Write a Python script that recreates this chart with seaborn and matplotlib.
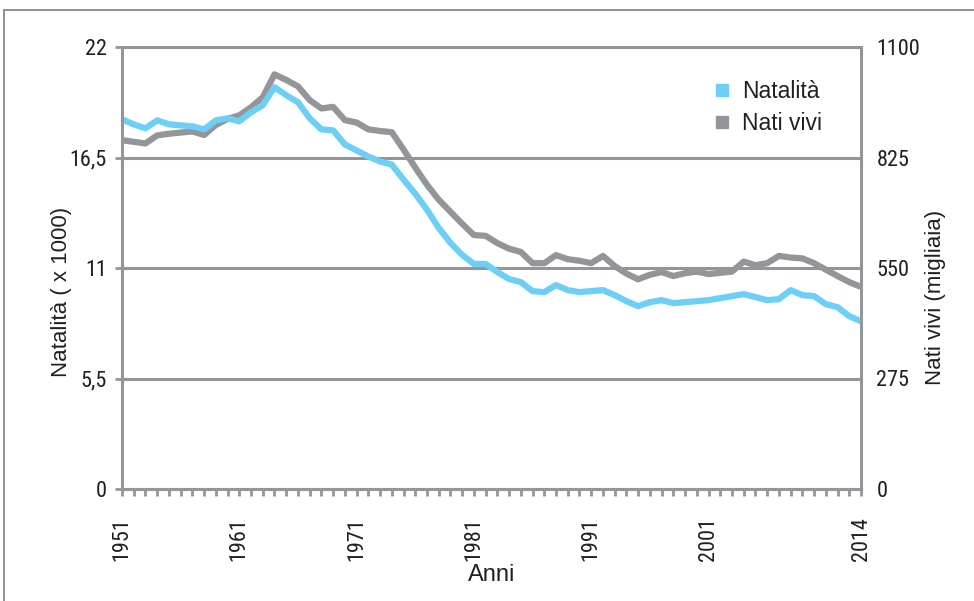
import matplotlib
matplotlib.use("Agg")
import matplotlib.pyplot as plt
from matplotlib import font_manager
from matplotlib.lines import Line2D
from matplotlib.ticker import FixedLocator
import seaborn as sns

# Annual series, Italy 1951-2014
anni = list(range(1951, 2015))

# Birth rate (births per 1000 inhabitants)
natalita = [
    18.4, 18.15, 17.95, 18.35, 18.15, 18.1, 18.05, 17.9, 18.35, 18.45,
    18.3, 18.75, 19.1, 20.0, 19.6, 19.25, 18.45, 17.9, 17.85, 17.15,
    16.85, 16.55, 16.3, 16.15, 15.4, 14.7, 13.9, 13.0, 12.25, 11.65,
    11.2, 11.2, 10.8, 10.45, 10.3, 9.85, 9.8, 10.15, 9.9, 9.8,
    9.85, 9.9, 9.65, 9.35, 9.1, 9.3, 9.4, 9.25, 9.3, 9.35,
    9.4, 9.5, 9.6, 9.7, 9.55, 9.4, 9.45, 9.9, 9.65, 9.6,
    9.2, 9.05, 8.6, 8.35,
]

# Live births (thousands)
nati_vivi = [
    868, 864, 860, 880, 884, 887, 890, 881, 906, 921,
    930, 950, 975, 1032, 1018, 1002, 968, 947, 951, 918,
    912, 895, 891, 888, 845, 800, 757, 720, 690, 660,
    632, 630, 612, 598, 590, 562, 562, 582, 572, 568,
    562, 580, 555, 536, 522, 533, 540, 530, 537, 541,
    535, 538, 541, 566, 557, 562, 580, 576, 574, 562,
    546, 530, 515, 503,
]

# Axis ticks and labels
anni_etichette = [1951, 1961, 1971, 1981, 1991, 2001, 2014]
natalita_ticks = [0, 5.5, 11, 16.5, 22]
natalita_labels = ["0", "5,5", "11", "16,5", "22"]
nati_ticks = [0, 275, 550, 825, 1100]
nati_labels = ["0", "275", "550", "825", "1100"]

BLU = "#6dcff6"
GRIGIO = "#939598"
TESTO = "#231f20"


def primo_font(candidati):
    installati = {f.name for f in font_manager.fontManager.ttflist}
    for nome in candidati:
        if nome in installati:
            return nome
    return "DejaVu Sans"


font_stretto = primo_font(["Liberation Sans Narrow", "Roboto Condensed",
                           "DejaVu Sans Condensed", "Liberation Sans"])
font_testo = primo_font(["Liberation Sans", "Roboto", "DejaVu Sans"])

sns.set_theme(style="white")
plt.rcParams["font.family"] = [font_testo, "DejaVu Sans"]

fig = plt.figure(figsize=(9.74, 6.01), dpi=100)
fig.patch.set_facecolor("white")

ax = fig.add_axes([122 / 974, 1 - 489 / 601, 739 / 974, 442 / 601])
ax2 = ax.twinx()

# right-hand axis sits underneath, carrying the gridlines and the grey series
ax2.set_zorder(1)
ax.set_zorder(2)
ax.patch.set_visible(False)
ax2.patch.set_facecolor("white")

sns.lineplot(x=anni, y=nati_vivi, ax=ax2, color=GRIGIO, linewidth=4.5,
             solid_joinstyle="round", solid_capstyle="butt")
sns.lineplot(x=anni, y=natalita, ax=ax, color=BLU, linewidth=4.5,
             solid_joinstyle="round", solid_capstyle="butt")

ax.set_xlim(1951, 2014)
ax.set_ylim(0, 22)
ax2.set_ylim(0, 1100)

# gridlines
ax2.set_yticks(nati_ticks)
ax2.set_yticklabels(nati_labels)
ax2.yaxis.grid(True, color=GRIGIO, linewidth=2.2)
ax2.xaxis.grid(False)
ax.grid(False)
for s in ax2.spines.values():
    s.set_visible(False)

for s in ax.spines.values():
    s.set_visible(True)
    s.set_color(GRIGIO)
    s.set_linewidth(2.2)

ax.set_yticks(natalita_ticks)
ax.set_yticklabels(natalita_labels)
ax.tick_params(axis="y", which="major", direction="out", length=5, width=2,
               color=GRIGIO, pad=6, labelsize=16, labelcolor=TESTO, left=True)
ax2.tick_params(axis="y", which="major", length=0, pad=11, labelsize=16,
                labelcolor=TESTO, right=True)

ax.xaxis.set_major_locator(FixedLocator(anni_etichette))
ax.set_xticklabels([str(a) for a in anni_etichette])
ax.xaxis.set_minor_locator(FixedLocator([a for a in anni if a not in anni_etichette]))
ax.tick_params(axis="x", which="both", direction="out", length=5, width=2,
               color=GRIGIO, bottom=True)
ax.tick_params(axis="x", which="major", pad=15, labelsize=16,
               labelcolor=TESTO, labelrotation=90)

for lab in ax.get_xticklabels() + ax.get_yticklabels() + ax2.get_yticklabels():
    lab.set_fontfamily([font_stretto, "DejaVu Sans"])

ax.set_xlabel("Anni", fontsize=17, color=TESTO)
ax.xaxis.set_label_coords(0.5, -0.17)
ax.set_ylabel("Natalità ( x 1000)", fontsize=16, color=TESTO)
ax.yaxis.set_label_coords(-0.068, 0.446)
ax2.set_ylabel("Nati vivi (migliaia)", fontsize=16, color=TESTO)
ax2.yaxis.set_label_coords(1.087, 0.434)

maniglie = [
    Line2D([], [], marker="s", linestyle="none", color=BLU, markersize=8.5),
    Line2D([], [], marker="s", linestyle="none", color=GRIGIO, markersize=8.5),
]
ax.legend(maniglie, ["Natalità", "Nati vivi"], loc="upper left",
          bbox_to_anchor=(712 / 974, 1 - 80 / 601), bbox_transform=fig.transFigure,
          frameon=False, fontsize=16.5, handlelength=0.9, handletextpad=0.4,
          labelspacing=0.38, borderpad=0, borderaxespad=0, labelcolor=TESTO)

# thin frame around the figure
fig.add_artist(Line2D([4 / 974, 1], [1 - 10 / 601, 1 - 10 / 601],
                      transform=fig.transFigure, color="#7f7f7f", linewidth=1.2))
fig.add_artist(Line2D([4 / 974, 4 / 974], [0, 1 - 10 / 601],
                      transform=fig.transFigure, color="#7f7f7f", linewidth=1.2))

fig.savefig("out.png", dpi=100, facecolor="white")
